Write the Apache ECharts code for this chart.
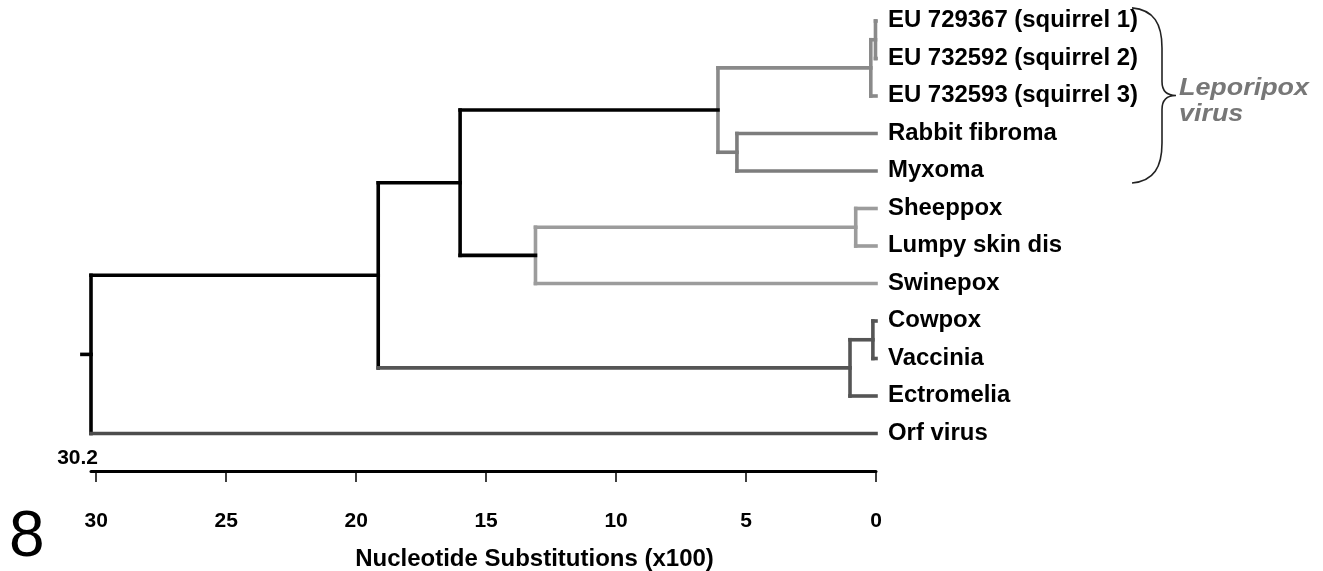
<!DOCTYPE html>
<html><head><meta charset="utf-8">
<script src="https://cdn.jsdelivr.net/npm/echarts@6/dist/echarts.min.js"></script>
<style>html,body{margin:0;padding:0;background:#fff;} #c{width:1323px;height:571px;}</style>
</head><body><div id="c"></div>
<script>
// ---------------- DATA ----------------
const leafNames = ['EU 729367 (squirrel 1)', 'EU 732592 (squirrel 2)', 'EU 732593 (squirrel 3)',
  'Rabbit fibroma', 'Myxoma', 'Sheeppox', 'Lumpy skin dis', 'Swinepox',
  'Cowpox', 'Vaccinia', 'Ectromelia', 'Orf virus'];
// linkage: internal node k (id = 12 + k) joins mergeLeft[k] and mergeRight[k] at mergeHeight[k]
const mergeLeft   = [0, 12, 3, 13, 5, 16, 15, 8, 19, 18, 21];
const mergeRight  = [1, 2, 4, 14, 6, 7, 17, 9, 10, 20, 11];
const mergeHeight = [0.02, 0.2, 5.35, 6.08, 0.78, 13.1, 16.0, 0.12, 1.0, 19.15, 30.2];
const rootLabel = '30.2';
const xTicks = [0, 5, 10, 15, 20, 25, 30];
const axisTitle = 'Nucleotide Substitutions (x100)';
const cladeLabel = ['Leporipox', 'virus'];
const cladeSpan = [0, 4];
const pageNumber = '8';

// ---------------- STYLES ----------------
const FONT = '"Liberation Sans", Arial, sans-serif';
const G1 = '#8a8a8a', G2 = '#7d7d7d', G3 = '#9c9c9c', G4 = '#555555', G5 = '#4d4d4d', BK = '#000000';
const vColor = {12: G1, 13: G1, 14: G2, 15: G1, 16: G3, 17: G3, 18: BK, 19: G4, 20: G4, 21: BK, 22: BK};
const stemColor = {0: G1, 1: G1, 2: G1, 3: G2, 4: G2, 5: G3, 6: G3, 7: G3, 8: G4, 9: G4, 10: G4, 11: G5,
  12: G1, 13: G1, 14: G2, 15: BK, 16: G3, 17: BK, 18: BK, 19: G4, 20: G4, 21: BK};

// ---------------- BUILD TREE GEOMETRY ----------------
const nLeaf = leafNames.length;
const H = [], Y = [];
leafNames.forEach((n, i) => { H[i] = 0; Y[i] = i; });
mergeLeft.forEach((a, k) => {
  const b = mergeRight[k], id = nLeaf + k;
  H[id] = mergeHeight[k];
  Y[id] = (Y[a] + Y[b]) / 2;
});
const segs = [], segColors = [];
mergeLeft.forEach((a, k) => {
  const b = mergeRight[k], id = nLeaf + k;
  segs.push([H[id], Y[a], H[id], Y[b]]); segColors.push(vColor[id]);
  segs.push([H[a], Y[a], H[id], Y[a]]); segColors.push(stemColor[a]);
  segs.push([H[b], Y[b], H[id], Y[b]]); segColors.push(stemColor[b]);
});
const rootId = nLeaf + mergeLeft.length - 1;
segs.push([H[rootId], Y[rootId], H[rootId] + 0.35, Y[rootId]]); segColors.push(BK);

const chart = echarts.init(document.getElementById('c'), null, {renderer: 'canvas'});
chart.setOption({
  animation: false,
  backgroundColor: '#ffffff',
  grid: {left: 91, right: 447, top: 2.25, bottom: 100, containLabel: false, outerBoundsMode: 'none'},
  xAxis: {
    type: 'value', inverse: true, min: 0, max: 30.2, position: 'bottom',
    axisLine: {show: true, onZero: false, lineStyle: {color: '#000', width: 3}},
    axisTick: {show: true, length: 11, customValues: xTicks, lineStyle: {color: '#000', width: 1.5}},
    axisLabel: {customValues: xTicks, margin: 40, fontFamily: FONT, fontWeight: 'bold', fontSize: 21, color: '#000'},
    splitLine: {show: false},
    name: axisTitle, nameLocation: 'middle', nameGap: 76,
    nameTextStyle: {fontFamily: FONT, fontWeight: 'bold', fontSize: 24, color: '#000', padding: [0, 0, 0, 102]}
  },
  yAxis: {type: 'value', inverse: true, min: -0.5, max: 12, show: false},
  graphic: [{type: 'text', left: 9, top: 506, style: {text: pageNumber, font: '64px ' + FONT, fill: '#000'}}],
  series: [
    {
      type: 'custom', coordinateSystem: 'cartesian2d', clip: false,
      data: segs, encode: {x: [0, 2], y: [1, 3]},
      renderItem: (params, api) => {
        const p1 = api.coord([api.value(0), api.value(1)]);
        const p2 = api.coord([api.value(2), api.value(3)]);
        return {type: 'line', shape: {x1: p1[0], y1: p1[1], x2: p2[0], y2: p2[1]},
          style: {stroke: segColors[params.dataIndex], lineWidth: 3.6, lineCap: 'square'}};
      }
    },
    {
      type: 'custom', coordinateSystem: 'cartesian2d', clip: false,
      data: leafNames.map((n, i) => [0, i]),
      renderItem: (params, api) => {
        const p = api.coord([api.value(0), api.value(1)]);
        return {type: 'text', x: p[0] + 12, y: p[1], scaleX: 1.04,
          style: {text: leafNames[params.dataIndex], font: 'bold 23px ' + FONT, fill: '#000',
            align: 'left', verticalAlign: 'middle', textAlign: 'left', textVerticalAlign: 'middle'}};
      }
    },
    {
      type: 'custom', coordinateSystem: 'cartesian2d', clip: false,
      data: [[H[rootId], 12]],
      renderItem: (params, api) => {
        const p = api.coord([api.value(0), api.value(1)]);
        return {type: 'text', x: p[0] + 7, y: p[1] - 13,
          style: {text: rootLabel, font: 'bold 21px ' + FONT, fill: '#000',
            align: 'right', verticalAlign: 'middle', textAlign: 'right', textVerticalAlign: 'middle'}};
      }
    },
    {
      type: 'custom', coordinateSystem: 'cartesian2d', clip: false,
      data: [[0, cladeSpan[0], cladeSpan[1]]],
      renderItem: (params, api) => {
        const pt = api.coord([0, api.value(1) - 0.35]);
        const pb = api.coord([0, api.value(2) + 0.32]);
        const x0 = pt[0] + 256, yt = pt[1], yb = pb[1], ym = (yt + yb) / 2;
        const d = `M${x0},${yt} C${x0 + 22},${yt + 2} ${x0 + 30},${yt + 16} ${x0 + 30},${yt + 40} ` +
          `L${x0 + 30},${ym - 14} C${x0 + 30},${ym - 4} ${x0 + 36},${ym} ${x0 + 44},${ym} ` +
          `C${x0 + 36},${ym} ${x0 + 30},${ym + 4} ${x0 + 30},${ym + 14} ` +
          `L${x0 + 30},${yb - 40} C${x0 + 30},${yb - 16} ${x0 + 22},${yb - 2} ${x0},${yb}`;
        return {type: 'group', children: [
          {type: 'path', shape: {pathData: d}, style: {stroke: '#222', lineWidth: 1.6, fill: null}},
          {type: 'text', x: x0 + 47, y: ym - 7, scaleX: 1.12,
            style: {text: cladeLabel[0], font: 'italic bold 24px ' + FONT, fill: '#777',
              align: 'left', verticalAlign: 'middle', textAlign: 'left', textVerticalAlign: 'middle'}},
          {type: 'text', x: x0 + 47, y: ym + 19, scaleX: 1.12,
            style: {text: cladeLabel[1], font: 'italic bold 24px ' + FONT, fill: '#777',
              align: 'left', verticalAlign: 'middle', textAlign: 'left', textVerticalAlign: 'middle'}}
        ]};
      }
    }
  ]
});
</script>
</body></html>
